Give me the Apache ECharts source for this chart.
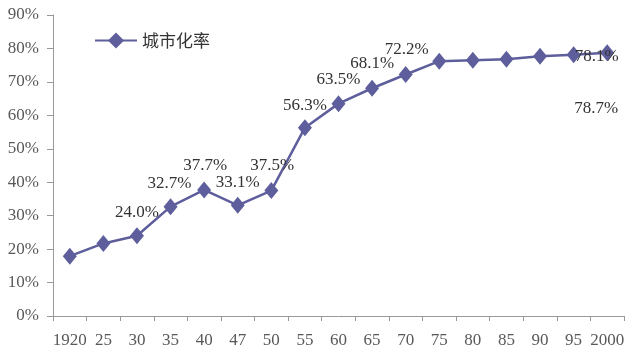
<!DOCTYPE html>
<html>
<head>
<meta charset="utf-8">
<script src="https://cdn.jsdelivr.net/npm/echarts@6/dist/echarts.min.js"></script>
<style>html,body{margin:0;padding:0;background:#fff;}#c{width:640px;height:356px;}</style>
</head>
<body>
<div id="c"></div>
<script>
const categories = ['1920','25','30','35','40','47','50','55','60','65','70','75','80','85','90','95','2000'];
const urbanRate = [17.9, 21.7, 24.0, 32.7, 37.7, 33.1, 37.5, 56.3, 63.5, 68.1, 72.2, 76.2, 76.5, 76.8, 77.7, 78.1, 78.7];
const showLabel = [false, false, true, true, true, true, true, true, true, true, true, false, false, false, false, true, true];
const yTicks = { min: 0, max: 90, step: 10 };
const seriesName = '城市化率';

const labelOffsets = {
  2: [0, -23], 3: [-1, -23], 4: [1, -24], 5: [0, -23], 6: [1, -25],
  7: [0, -22], 8: [0, -24], 9: [0, -25], 10: [1, -25], 15: [23, 2], 16: [-11, 56]
};
const lineColor = '#5E5E9C';
const data = urbanRate.map((v, i) => ({
  value: v,
  label: {
    show: showLabel[i],
    position: 'inside',
    offset: labelOffsets[i] || [0, 0],
    formatter: p => p.value.toFixed(1) + '%'
  }
}));

const chart = echarts.init(document.getElementById('c'), null, { renderer: 'canvas' });
chart.setOption({
  animation: false,
  backgroundColor: '#fff',
  grid: { left: 53, right: 16, top: 15, bottom: 40, containLabel: false },
  legend: {
    data: [seriesName],
    left: 94, top: 32,
    padding: 0,
    itemWidth: 42, itemHeight: 20, itemGap: 10,
    textStyle: { fontFamily: 'Noto Sans CJK SC', fontSize: 17, color: '#333', padding: [0, 0, 0, 0] }
  },
  xAxis: {
    type: 'category',
    data: categories,
    boundaryGap: true,
    axisLine: { lineStyle: { color: '#999', width: 1 } },
    axisTick: { show: true, length: 5, lineStyle: { color: '#999' }, alignWithLabel: false },
    axisLabel: { fontFamily: 'Liberation Serif', fontSize: 17, color: '#595959', margin: 16, interval: 0 },
    splitLine: { show: false }
  },
  yAxis: {
    type: 'value',
    min: yTicks.min, max: yTicks.max, interval: yTicks.step,
    axisLine: { show: true, lineStyle: { color: '#999', width: 1 } },
    axisTick: { show: true, inside: false, length: 6, lineStyle: { color: '#999' } },
    axisLabel: { fontFamily: 'Liberation Serif', fontSize: 17, color: '#595959', margin: 14, formatter: '{value}%' },
    splitLine: { show: false }
  },
  series: [{
    name: seriesName,
    type: 'line',
    data: data,
    symbol: 'diamond',
    symbolSize: [14, 17],
    itemStyle: { color: lineColor },
    lineStyle: { color: lineColor, width: 2.5 },
    label: { fontFamily: 'Liberation Serif', fontSize: 17, color: '#333' }
  }]
});
</script>
</body>
</html>
